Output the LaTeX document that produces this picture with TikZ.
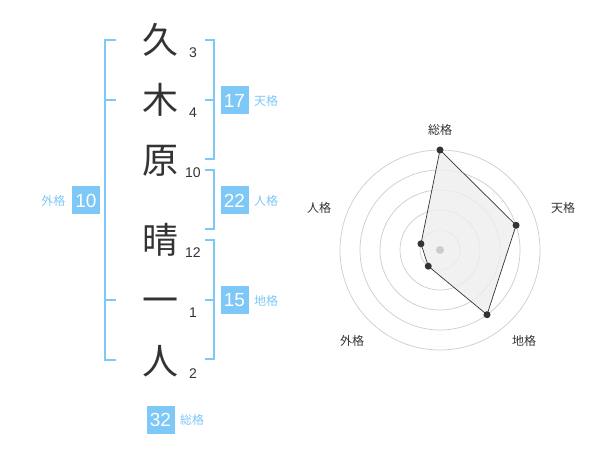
\documentclass[tikz,border=0pt]{standalone}
\usepackage{fontspec}
\usetikzlibrary{calc}
\setmainfont{Liberation Sans}
\newfontfamily\cjk{Noto Sans CJK JP}
\definecolor{kblue}{RGB}{125,200,247}
\definecolor{ktext}{RGB}{51,51,51}
\definecolor{kgrid}{RGB}{204,204,204}
\definecolor{kfill}{RGB}{238,238,238}
\tikzset{
  kanji/.style={anchor=base, inner sep=0pt, text=ktext, font=\cjk\fontsize{36}{36}\selectfont},
  strokes/.style={inner sep=0pt, text=ktext, font=\fontsize{14}{14}\selectfont},
  bracket/.style={draw=kblue, line width=1.8pt},
  valbox/.style={fill=kblue, minimum size=28pt, inner sep=0pt, text=white, font=\fontsize{19}{19}\selectfont},
  vallabel/.style={inner sep=0pt, text=kblue, font=\cjk\fontsize{12}{12}\selectfont},
  gridc/.style={draw=kgrid, line width=0.7pt},
  radlabel/.style={inner sep=0pt, text=ktext, font=\cjk\fontsize{12}{12}\selectfont},
  vdot/.style={circle, fill=ktext, inner sep=0pt, minimum size=7pt},
}
\begin{document}
\begin{tikzpicture}[x=1pt,y=-1pt]
\useasboundingbox (0,0) rectangle (600,470);
% kanji
\node[kanji] (k1) at (160,54) {久};
\node[kanji] (k2) at (160,114) {木};
\node[kanji] (k3) at (160,174) {原};
\node[kanji] (k4) at (160,254) {晴};
\node[kanji] (k5) at (160,314) {一};
\node[kanji] (k6) at (160,374) {人};
% stroke counts
\node[strokes] (s1) at (193,53) {3};
\node[strokes] (s2) at (193,113) {4};
\node[strokes] (s3) at (193,173) {10};
\node[strokes] (s4) at (193,253) {12};
\node[strokes] (s5) at (193,313) {1};
\node[strokes] (s6) at (193,374) {2};
% brackets
\draw[bracket] (116,40) -- (105,40) -- (105,360) -- (116,360);
\draw[bracket] (105,100) -- (116,100);
\draw[bracket] (105,300) -- (116,300);
\draw[bracket] (205,40) -- (214,40) -- (214,159) -- (205,159);
\draw[bracket] (205,100) -- (214,100);
\draw[bracket] (205,170) -- (214,170) -- (214,229) -- (205,229);
\draw[bracket] (205,240) -- (214,240) -- (214,359) -- (205,359);
\draw[bracket] (205,300) -- (214,300);
% value boxes
\node[valbox] (v1) at (234.5,100.5) {17};
\node[vallabel] (l1) at (266,101) {天格};
\node[valbox] (v2) at (234.5,200.5) {22};
\node[vallabel] (l2) at (266,201) {人格};
\node[valbox] (v3) at (234.5,300.5) {15};
\node[vallabel] (l3) at (266,301) {地格};
\node[valbox] (v4) at (86,200.5) {10};
\node[vallabel] (l4) at (53.5,201) {外格};
\node[valbox] (v5) at (160.5,419.5) {32};
\node[vallabel] (l5) at (192,420) {総格};
% radar
\coordinate (c) at (440,250);
\foreach \r in {20,40,60,80,100} \draw[gridc] (c) circle[radius=\r];
\coordinate (p1) at ($(c)+(-90:100)$);
\coordinate (p2) at ($(c)+(-18:80)$);
\coordinate (p3) at ($(c)+(54:80)$);
\coordinate (p4) at ($(c)+(126:20)$);
\coordinate (p5) at ($(c)+(198:20)$);
\draw[fill=kfill, fill opacity=0.8, draw=ktext, line width=0.7pt] (p1) -- (p2) -- (p3) -- (p4) -- (p5) -- cycle;
\node[circle, fill=kgrid, inner sep=0pt, minimum size=8pt] (cd) at (c) {};
\foreach \i in {1,...,5} \node[vdot] (d\i) at (p\i) {};
\node[radlabel] (r1) at (440,130) {総格};
\node[radlabel] (r2) at (563,208) {天格};
\node[radlabel] (r3) at (524,341) {地格};
\node[radlabel] (r4) at (352,341) {外格};
\node[radlabel] (r5) at (319,208) {人格};
\end{tikzpicture}
\end{document}
